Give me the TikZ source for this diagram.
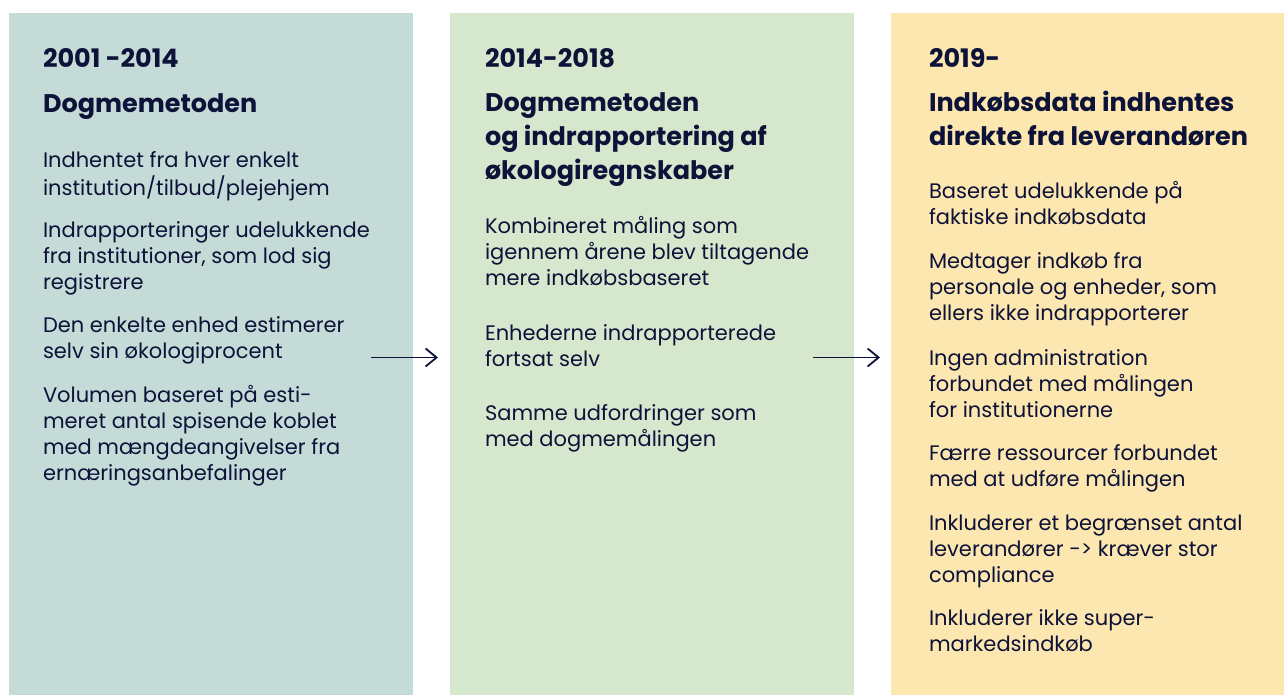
\documentclass[tikz,border=0pt]{standalone}
\usepackage{fontspec}
\setmainfont{Poppins}
\usetikzlibrary{arrows.meta}
\definecolor{ink}{HTML}{0D1238}
\definecolor{pA}{HTML}{C5DBD8}
\definecolor{pB}{HTML}{D5E8CE}
\definecolor{pC}{HTML}{FDE7B0}
\begin{document}
\begin{tikzpicture}[x=1pt,y=-1pt,
  panel/.style={draw=none, inner sep=0pt, outer sep=0pt, anchor=north west, minimum height=682pt},
  body/.style={anchor=north west, inner sep=0pt, outer sep=0pt, align=left, text=ink, font=\fontsize{21}{26}\selectfont},
  head/.style={anchor=north west, inner sep=0pt, outer sep=0pt, align=left, text=ink, font=\bfseries\fontsize{25.5}{34}\selectfont},
  conn/.style={draw=ink, line width=1.8pt, -{Straight Barb[length=11pt,width=18pt,line width=1.8pt]}}]
\useasboundingbox (0,0) rectangle (1284,695);
% panels
\node[panel, fill=pA, minimum width=404pt] (p1) at (9,13) {};
\node[panel, fill=pB, minimum width=404pt] (p2) at (450,13) {};
\node[panel, fill=pC, minimum width=393pt] (p3) at (891,13) {};
% panel 1
\node[head] (h1a) at (43,44.2) {\strut 2001 -2014};
\node[head] (h1b) at (43,89.2) {\strut Dogmemetoden};
\node[body] (b1a) at (43,148.8) {\strut Indhentet fra hver enkelt\\institution/tilbud/plejehjem};
\node[body] (b1b) at (43,218.8) {\strut Indrapporteringer udelukkende\\fra institutioner, som lod sig\\registrere};
\node[body] (b1c) at (43,313.8) {\strut Den enkelte enhed estimerer\\selv sin økologiprocent};
\node[body] (b1d) at (43,383.8) {\strut Volumen baseret på esti-\\meret antal spisende koblet\\med mængdeangivelser fra\\ernæringsanbefalinger};
% panel 2
\node[head] (h2a) at (485,44.2) {\strut 2014-2018};
\node[head] (h2b) at (485,88.2) {\strut Dogmemetoden\\og indrapportering af\\økologiregnskaber};
\node[body] (b2a) at (485,214.8) {\strut Kombineret måling som\\igennem årene blev tiltagende\\mere indkøbsbaseret};
\node[body] (b2b) at (485,321.8) {\strut Enhederne indrapporterede\\fortsat selv};
\node[body] (b2c) at (485,401.8) {\strut Samme udfordringer som\\med dogmemålingen};
% panel 3
\node[head] (h3a) at (929,44.2) {\strut 2019-};
\node[head] (h3b) at (929,88.2) {\strut Indkøbsdata indhentes\\direkte fra leverandøren};
\node[body] (b3a) at (929,179.8) {\strut Baseret udelukkende på\\faktiske indkøbsdata};
\node[body] (b3b) at (929,249.8) {\strut Medtager indkøb fra\\personale og enheder, som\\ellers ikke indrapporterer};
\node[body] (b3c) at (929,346.8) {\strut Ingen administration\\forbundet med målingen\\for institutionerne};
\node[body] (b3d) at (929,441.8) {\strut Færre ressourcer forbundet\\med at udføre målingen};
\node[body] (b3e) at (929,511.8) {\strut Inkluderer et begrænset antal\\leverandører -> kræver stor\\compliance};
\node[body] (b3f) at (929,606.8) {\strut Inkluderer ikke super-\\markedsindkøb};
% arrows
\coordinate (a1s) at (371,357.5);
\coordinate (a1e) at (438,357.5);
\coordinate (a2s) at (813,357.5);
\coordinate (a2e) at (880,357.5);
\draw[conn] (a1s) -- (a1e);
\draw[conn] (a2s) -- (a2e);
\end{tikzpicture}
\end{document}
